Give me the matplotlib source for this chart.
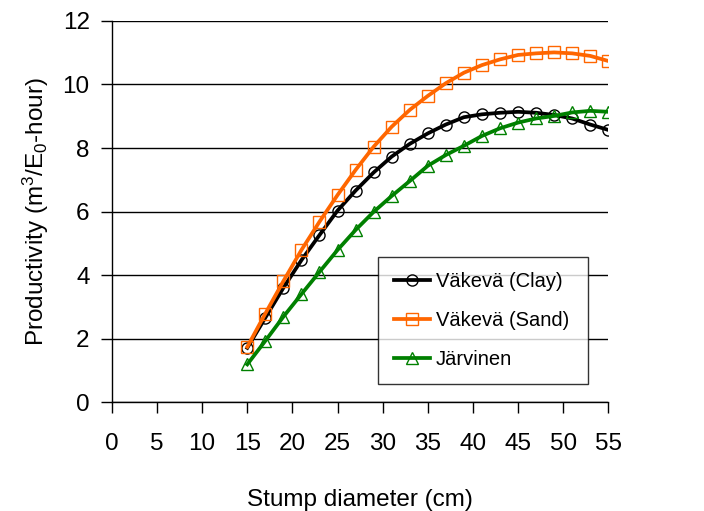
import numpy as np
import matplotlib.pyplot as plt

plt.rcParams['font.family'] = ['Liberation Sans', 'DejaVu Sans']
plt.rcParams['mathtext.fontset'] = 'custom'
plt.rcParams['mathtext.rm'] = 'Liberation Sans'
plt.rcParams['mathtext.it'] = 'Liberation Sans'

# stump diameter (cm)
diameter = list(range(15, 56, 2))

# productivity
clay = [1.71, 2.66, 3.60, 4.47, 5.26, 6.03, 6.66, 7.23, 7.73, 8.13, 8.46,
        8.74, 8.97, 9.06, 9.11, 9.14, 9.11, 9.04, 8.93, 8.74, 8.57]
sand = [1.74, 2.79, 3.81, 4.79, 5.68, 6.52, 7.31, 8.04, 8.67, 9.20, 9.64,
        10.04, 10.37, 10.61, 10.79, 10.93, 10.98, 11.01, 10.98, 10.90, 10.74]
jarvinen = [1.19, 1.93, 2.69, 3.40, 4.10, 4.79, 5.42, 5.99, 6.49, 6.96, 7.44,
            7.78, 8.07, 8.38, 8.62, 8.80, 8.93, 9.01, 9.12, 9.17, 9.14]

fig = plt.figure(figsize=(7.04, 5.11), dpi=100)
ax = fig.add_axes([0.159, 0.213, 0.705, 0.746])

ax.plot(diameter, clay, color='black', lw=2.7, marker='o', ms=8,
        mfc='none', mew=1.0, label='Väkevä (Clay)')
ax.plot(diameter, sand, color='#FF6600', lw=2.7, marker='s', ms=8,
        mfc='none', mew=1.0, label='Väkevä (Sand)')
ax.plot(diameter, jarvinen, color='#008000', lw=2.7, marker='^', ms=8,
        mfc='none', mew=1.0, label='Järvinen')

ax.set_xlim(0, 55)
ax.set_ylim(0, 12)
ax.set_xticks(range(0, 56, 5))
ax.set_yticks(range(0, 13, 2))
ax.yaxis.grid(True, color='black', lw=1.0)
ax.set_axisbelow(True)
for s in ['top', 'right']:
    ax.spines[s].set_visible(False)
ax.spines['left'].set_linewidth(1.0)
ax.spines['bottom'].set_linewidth(1.0)
ax.tick_params(labelsize=17.5, length=8, width=1.0, direction='out')
ax.tick_params(axis='x', pad=14)
ax.tick_params(axis='y', pad=8)

ax.set_xlabel('Stump diameter (cm)', fontsize=17.5, labelpad=25)
ax.set_ylabel('Productivity (m$^3$/E$_0$-hour)', fontsize=17.5, labelpad=8)

leg = ax.legend(loc='upper left', bbox_to_anchor=(0.537, 0.381, 0.423, 0.0),
                mode='expand', borderaxespad=0, fontsize=14.5, frameon=True,
                fancybox=False, edgecolor='black', handlelength=1.8,
                handletextpad=0.3, labelspacing=1.0, borderpad=0.75)
leg.get_frame().set_linewidth(1.0)

fig.savefig('out.png', dpi=100)
